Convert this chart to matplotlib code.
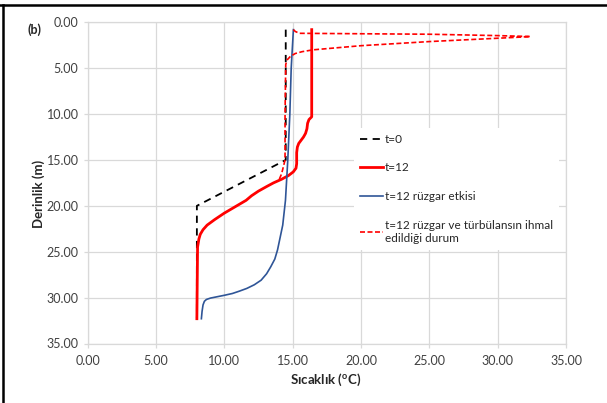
import numpy as np
import matplotlib.pyplot as plt
from matplotlib.lines import Line2D

plt.rcParams['font.family'] = ['Lato', 'DejaVu Sans']
plt.rcParams['mathtext.fontset'] = 'custom'
plt.rcParams['mathtext.rm'] = 'Lato'
plt.rcParams['mathtext.bf'] = 'Lato:bold'

# t=0 initial profile
t0_T = [14.5, 14.5, 8.0, 8.0]
t0_D = [0.8, 15.0, 20.0, 32.2]

# t=12
t12_T = [16.4, 16.4, 16.2, 16.1, 16.05, 15.95, 15.8, 15.6, 15.45, 15.35, 15.3, 15.3,
         15.25, 15.05, 14.7, 14.2, 13.6, 13.1, 12.5, 12.0, 11.6, 10.8, 10.0, 9.3,
         8.75, 8.45, 8.25, 8.15, 8.05, 8.0]
t12_D = [0.8, 10.3, 10.6, 11.0, 11.6, 12.1, 12.5, 12.9, 13.2, 13.6, 14.2, 15.4,
         15.9, 16.3, 16.7, 17.1, 17.5, 17.9, 18.4, 18.9, 19.4, 20.1, 20.8, 21.5,
         22.1, 22.6, 23.1, 23.6, 24.5, 32.3]

# t=12 ruzgar etkisi
wind_T = [15.06, 14.9, 14.8, 14.65, 14.48, 14.28, 13.9, 13.7, 13.4, 13.1, 12.7,
          12.2, 11.65, 11.1, 10.6, 10.0, 9.5, 9.0, 8.7, 8.55, 8.45, 8.38, 8.33]
wind_D = [0.8, 5.0, 10.0, 15.0, 19.4, 22.1, 24.8, 25.8, 26.65, 27.4, 28.1,
          28.6, 29.0, 29.3, 29.55, 29.75, 29.9, 30.05, 30.2, 30.4, 30.8, 31.5, 32.3]

# t=12 ruzgar ve turbulans ihmal
nowind_T = [15.06, 15.2, 15.5, 25.0, 30.0, 32.4, 31.2, 25.0, 20.0, 16.5, 15.7,
            15.2, 14.85, 14.6, 14.5, 14.45, 14.45, 14.2, 14.0]
nowind_D = [0.8, 1.0, 1.2, 1.3, 1.45, 1.55, 1.65, 2.1, 2.55, 3.0, 3.2,
            3.4, 3.7, 4.1, 4.6, 10.0, 15.0, 16.5, 17.2]

labels = ['t=0', 't=12', 't=12 rüzgar etkisi',
          't=12 rüzgar ve türbülansın ihmal\nedildiği durum']

fig = plt.figure(figsize=(6.07, 4.03), dpi=100)
ax = fig.add_axes([87.5 / 607, 1 - 343.5 / 403, 478.5 / 607, 321.2 / 403])

ax.plot(t0_T, t0_D, color='black', lw=1.3, ls=(0, (4, 3)), label=labels[0])
ax.plot(t12_T, t12_D, color='#ff0000', lw=2.0, label=labels[1])
ax.plot(wind_T, wind_D, color='#2f5597', lw=1.2, label=labels[2])
ax.plot(nowind_T, nowind_D, color='#ff0000', lw=1.2, ls=(0, (3, 1.5)), label=labels[3])

ax.set_xlim(0, 35)
ax.set_ylim(35, 0)
ax.set_xticks(np.arange(0, 36, 5))
ax.set_yticks(np.arange(0, 36, 5))
ax.set_xticklabels(['%.2f' % v for v in np.arange(0, 36, 5)])
ax.set_yticklabels(['%.2f' % v for v in np.arange(0, 36, 5)])
ax.grid(True, color='#d9d9d9', lw=0.9)
ax.set_axisbelow(True)
for s in ax.spines.values():
    s.set_color('#d9d9d9')
    s.set_linewidth(0.9)
ax.tick_params(colors='#d9d9d9', labelcolor='#404040', labelsize=9, length=3, width=0.9)
ax.tick_params(axis='x', pad=5)

leg = ax.legend(loc='upper left', bbox_to_anchor=(0.545, 0.69), fontsize=8.5,
                handlelength=1.9, handletextpad=0.2, labelspacing=1.5,
                frameon=True, fancybox=False, framealpha=1, borderpad=0.5)
leg.get_frame().set_edgecolor('none')
for t in leg.get_texts():
    t.set_color('#262626')

fig.text(39 / 607, 1 - 194 / 403, 'Derinlik (m)', rotation=90, ha='center', va='center',
         fontsize=9.5, fontweight='bold', color='#262626')
fig.text(326 / 607, 1 - 380 / 403, 'Sıcaklık ($^{\\mathbf{o}}$C)', ha='center', va='center',
         fontsize=9.5, fontweight='bold', color='#262626')
fig.text(35 / 607, 1 - 30 / 403, '(b)', ha='center', va='center',
         fontsize=9, fontweight='bold', color='#262626')

# outer frame (top and left only visible)
fig.add_artist(Line2D([0, 1], [1 - 5 / 403] * 2, color='black', lw=1.8, transform=fig.transFigure))
fig.add_artist(Line2D([3 / 607] * 2, [0, 1 - 5 / 403], color='black', lw=1.8, transform=fig.transFigure))

fig.savefig('out.png', dpi=100)
